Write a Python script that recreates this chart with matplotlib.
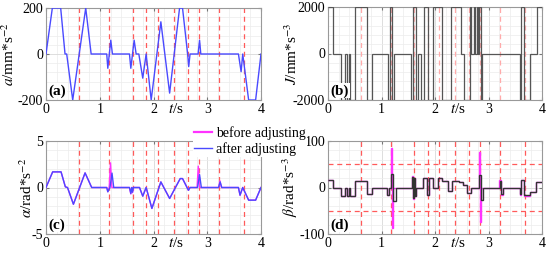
import numpy as np
import matplotlib.pyplot as plt
from matplotlib.ticker import MultipleLocator
from matplotlib.lines import Line2D

plt.rcParams['font.family'] = 'Liberation Serif'
plt.rcParams['mathtext.fontset'] = 'stix'
plt.rcParams['axes.unicode_minus'] = False

# switching instants (red dashed lines)
t_marks = [0.62, 1.18, 1.615, 1.862, 2.075, 2.373, 2.64, 2.845, 3.21, 3.677]

# (a) linear acceleration
t_a = [0, 0.118, 0.273, 0.354, 0.385, 0.497, 0.739, 0.84, 1.13, 1.15, 1.205, 1.236,
       1.553, 1.578, 1.64, 1.677, 1.727, 1.80, 1.863, 1.957, 2.137, 2.30, 2.485, 2.54,
       2.635, 2.655, 2.68, 2.83, 2.857, 2.88, 3.58, 3.63, 3.66, 3.77, 3.90, 4.0]
acc = [0, 200, 200, 0, 0, -200, 200, 0, 0, -62, 60, 0,
       0, -62, 60, 0, 0, -105, 0, -200, 140, -170, 200, 200,
       0, -55, 0, 0, 60, 0, 0, -77, 0, -200, -200, 0]

# (b) jerk, step edges and levels
edges_j = [0, 0.1, 0.25, 0.325, 0.36, 0.39, 0.42, 0.5, 0.72, 0.83,
           1.125, 1.15, 1.2, 1.23, 1.555, 1.58, 1.64, 1.68, 1.73, 1.80,
           1.86, 1.96, 2.14, 2.30, 2.49, 2.54, 2.65, 2.68, 2.72, 2.75,
           2.78, 2.80, 2.83, 2.857, 2.88, 3.58, 3.615, 3.66, 3.77, 3.90,
           4.0]
jerk = [2000, 0, -2000, 0, -2000, 0, -2000, 2000, -2000, 0,
        -2000, 2000, -2000, 0, -2000, 2000, -2000, 0, -2000, 2000,
        -2000, 2000, -2000, 2000, 0, -2000, 2000, 0, 2000, 0,
        2000, 0, 2000, -2000, 0, -2000, 2000, -2000, 0, 2000]

# (c) angular acceleration
t_c = [0, 0.124, 0.28, 0.36, 0.40, 0.51, 0.727, 0.85, 1.13, 1.15, 1.19, 1.228, 1.26,
       1.553, 1.578, 1.596, 1.61, 1.625, 1.74, 1.80, 1.863, 1.97, 2.137, 2.30, 2.497,
       2.54, 2.65, 2.68, 2.82, 2.857, 2.89, 3.21, 3.24, 3.27, 3.58, 3.61, 3.66, 3.77,
       3.9, 4.0]
alpha_after = [0, 1.68, 1.68, 0.07, 0, -1.8, 1.57, 0, 0, -0.46, 0, 1.55, 0,
               0, -0.64, 0, -0.5, 0, 0, -0.93, 0, -2.25, 0.6, -1.18, 0.96,
               0.96, -0.3, 0, 0, 1.39, 0, 0, 0.6, 0, 0, -0.82, 0, -1.36,
               -1.36, 0]
t_cb = [0, 0.124, 0.28, 0.36, 0.40, 0.51, 0.727, 0.85, 1.13, 1.15, 1.175, 1.20, 1.225,
        1.553, 1.578, 1.596, 1.61, 1.625, 1.74, 1.80, 1.863, 1.97, 2.137, 2.30, 2.497,
        2.54, 2.65, 2.68, 2.81, 2.833, 2.86, 3.21, 3.235, 3.265, 3.58, 3.61, 3.66, 3.77,
        3.9, 4.0]
alpha_before = [0, 1.68, 1.68, 0.07, 0, -1.8, 1.57, 0, 0, -0.46, 0, 2.65, 0,
                0, -0.7, 0, -0.55, 0, 0, -0.93, 0, -2.25, 0.6, -1.18, 0.96,
                0.96, -0.3, 0, 0, 2.3, 0, 0, 0.72, 0, 0, -0.85, 0, -1.36,
                -1.36, 0]

# (d) angular jerk
edges_d = [0, 0.1, 0.25, 0.325, 0.36, 0.39, 0.42, 0.5, 0.72, 0.83,
           1.095, 1.14, 1.175, 1.22, 1.28, 1.575, 1.59, 1.61, 1.625, 1.64,
           1.78, 1.845, 1.89, 1.97, 2.06, 2.14, 2.24, 2.31, 2.44, 2.52,
           2.60, 2.68, 2.82, 2.855, 2.89, 3.21, 3.235, 3.265, 3.585, 3.615,
           3.665, 3.77, 3.88, 4.0]
beta_after = [17, 0, -19, 0, -19, 0, -19, 15, -14, 0,
              -16, 0, 30, -28, 0, 23, -23, 20, -18, 0,
              20, -16, 20, 0, 20, 15, -8, 15, 12, 5,
              -12, 0, 27, -27, 0, 13, -13, 0, -15, 17,
              -17, -9, 12]
edges_db = [0, 0.1, 0.25, 0.325, 0.36, 0.39, 0.42, 0.5, 0.72, 0.83,
            1.095, 1.14, 1.175, 1.195, 1.22, 1.575, 1.59, 1.61, 1.625, 1.64,
            1.78, 1.845, 1.89, 1.97, 2.06, 2.14, 2.24, 2.31, 2.44, 2.52,
            2.60, 2.68, 2.815, 2.835, 2.86, 3.205, 3.235, 3.27, 3.58, 3.61,
            3.665, 3.77, 3.88, 4.0]
beta_before = [17, 0, -19, 0, -19, 0, -19, 15, -14, 0,
               -16, 0, 86, -88, 0, 25, -25, 20, -18, 0,
               20, -16, 20, 0, 20, 15, -8, 15, 12, 5,
               -12, 0, 76, -75, 0, 17, -17, 0, -17, 17,
               -19, -9, 12]

blue = '#4a4aff'
mag = '#ff33ff'
red = '#ff5a5a'

fig = plt.figure(figsize=(5.5, 2.61), dpi=100)
ax_a = fig.add_axes([46/550, 1-100/261, 215/550, 92/261])
ax_b = fig.add_axes([328/550, 1-100/261, 214/550, 93/261])
ax_c = fig.add_axes([46/550, 1-234/261, 215/550, 93/261])
ax_d = fig.add_axes([328/550, 1-234/261, 214/550, 93/261])


def style(ax, lim, ticks, minor, ylab, lab_x, tag):
    ax.set_xlim(0, 4)
    ax.set_ylim(-lim, lim)
    ax.set_xticks([0, 1, 2, 3, 4])
    ax.set_yticks(ticks)
    ax.xaxis.set_minor_locator(MultipleLocator(0.2))
    ax.yaxis.set_minor_locator(MultipleLocator(minor))
    ax.grid(which='major', color='#d8d8d8', lw=0.6)
    ax.grid(which='minor', color='#ececec', lw=0.5)
    ax.set_axisbelow(True)
    ax.tick_params(which='both', direction='in', top=True, right=True,
                   labelsize=10, length=2, color='#777777', pad=2)
    ax.tick_params(which='minor', length=0)
    for s in ax.spines.values():
        s.set_color('#999999')
        s.set_linewidth(0.8)
    ax.set_ylabel(ylab, fontsize=11)
    ax.yaxis.set_label_coords(lab_x, 0.5)
    ax.set_xlabel(r'$t$/s', fontsize=11)
    ax.xaxis.set_label_coords(0.605, -0.02)
    ax.text(0.012, 0.025, tag, transform=ax.transAxes, fontsize=11, fontweight='bold',
            ha='left', va='bottom', zorder=5,
            bbox=dict(facecolor='white', edgecolor='none', pad=0.5))


for tm in t_marks:
    ax_a.axvline(tm, color=red, lw=0.9, dashes=(4, 3), zorder=1)
    ax_b.axvline(tm, color='#ffaaaa', lw=0.9, dashes=(4, 3), zorder=1)
    ax_c.axvline(tm, color=red, lw=0.9, dashes=(4, 3), zorder=1)
    ax_d.axvline(tm, color=red, lw=0.9, dashes=(4, 3), zorder=1)
for yl in [50, -50]:
    ax_d.axhline(yl, color=red, lw=0.9, dashes=(4, 3), zorder=1)

ax_a.plot(t_a, acc, color=blue, lw=1.0, zorder=3)
ax_b.stairs(jerk, edges_j, baseline=None, color='#555555', lw=0.9, zorder=3)
ax_c.plot(t_cb, alpha_before, color=mag, lw=1.0, zorder=3)
ax_c.plot(t_c, alpha_after, color=blue, lw=1.0, zorder=4)
ax_d.stairs(beta_before, edges_db, baseline=None, color=mag, lw=1.0, zorder=3)
ax_d.stairs(beta_after, edges_d, baseline=None, color='#333333', lw=1.0, zorder=4)

style(ax_a, 200, [-200, 0, 200], 40, r'$a$/mm*s$^{-2}$', -0.135, '(a)')
style(ax_b, 2000, [-2000, 0, 2000], 400, r'$J$/mm*s$^{-3}$', -0.13, '(b)')
style(ax_c, 5, [-5, 0, 5], 1, r'$\alpha$/rad*s$^{-2}$', -0.05, '(c)')
style(ax_d, 100, [-100, 0, 100], 20, r'$\beta$/rad*s$^{-3}$', -0.13, '(d)')

handles = [Line2D([], [], color=mag, lw=1.6), Line2D([], [], color=blue, lw=1.0)]
fig.legend(handles, ['before adjusting', 'after adjusting'], loc='upper left',
           bbox_to_anchor=(193/550, 1-125/261), fontsize=10, handlelength=1.3,
           handletextpad=0.25, labelspacing=0.15, borderpad=0.1, borderaxespad=0,
           frameon=True, facecolor='white', edgecolor='none', framealpha=1,
           fancybox=False)

fig.savefig('out.png', dpi=100)
